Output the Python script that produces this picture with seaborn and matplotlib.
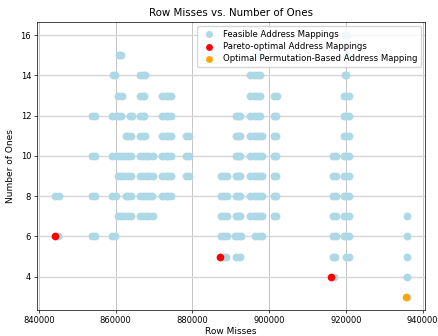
import numpy as np
import pandas as pd
import matplotlib
matplotlib.use("Agg")
import matplotlib.pyplot as plt
import seaborn as sns

# row misses of the feasible mappings, one list per number of ones
misses_16 = [919700, 920300]
misses_15 = [860800, 861400, 897000, 920000]
misses_14 = [859300, 859800, 866440, 867000, 867680, 895130, 896000, 896800, 897500,
             919700, 920100]
misses_13 = [860740, 861550, 866440, 867000, 867510, 872140, 873000, 873700, 874440,
             895130, 896000, 896800, 897500, 901260, 902060, 919510, 920100, 920760]
misses_12 = [853890, 854700, 859160, 860000, 860700, 861370, 863720, 864170, 866440,
             867000, 867510, 872140, 873000, 873700, 874440, 891440, 892000, 892420,
             895130, 896000, 896800, 897500, 901260, 901890, 919510, 920100, 920760]
misses_11 = [862670, 863300, 864000, 866440, 867000, 867680, 872140, 873000, 873700,
             874440, 878460, 879090, 891440, 892000, 892420, 895130, 896000, 896800,
             897500, 898200, 901260, 901890, 919510, 920100, 920760]
misses_10 = [853890, 854700, 859160, 860000, 860800, 861600, 862400, 863200, 864000,
             866440, 867200, 868000, 868800, 869620, 872140, 873000, 873700, 874440,
             878460, 879090, 891440, 892000, 892420, 895130, 896000, 896800, 897500,
             898200, 901260, 901890, 916610, 917500, 919510, 920100, 920760]
misses_9 = [860740, 861500, 862300, 863100, 864000, 866440, 867200, 868000, 868800,
            869620, 872140, 873000, 873700, 874440, 878460, 879090, 887490, 888200,
            889000, 891440, 892000, 892420, 895130, 896000, 896800, 897500, 898200,
            901260, 901890, 916610, 917500, 919510, 920100, 920760]
misses_8 = [844250, 845140, 853890, 854700, 859160, 859970, 862670, 863300, 864000,
            866440, 867200, 868000, 868800, 869440, 872140, 873000, 873700, 874440,
            887490, 888200, 889000, 891440, 892000, 892420, 895130, 896000, 896800,
            897500, 898200, 901260, 901890, 916610, 917500, 919510, 920100, 920760]
misses_7 = [860740, 861500, 862300, 863100, 864000, 866440, 867200, 868000, 868800,
            869620, 887490, 888200, 889000, 891440, 892000, 892420, 895130, 896000,
            896800, 897500, 898200, 901260, 901890, 916610, 917500, 919510, 920100,
            920760, 936000]
misses_6 = [844100, 845100, 853890, 854700, 859160, 859790, 887490, 888200, 889000,
            891180, 892000, 892680, 896440, 897300, 898210, 916610, 917500, 919510,
            920100, 920760, 936000]
misses_5 = [887300, 888000, 888740, 891440, 892420, 916610, 917250, 920130, 920760,
            936000]
misses_4 = [916300, 917000, 936000]
misses_3 = [936000]

rows = {16: misses_16, 15: misses_15, 14: misses_14, 13: misses_13, 12: misses_12,
        11: misses_11, 10: misses_10, 9: misses_9, 8: misses_8, 7: misses_7,
        6: misses_6, 5: misses_5, 4: misses_4, 3: misses_3}

pareto_misses = [844100, 887300, 916200]
pareto_ones = [6, 5, 4]

best_misses = [935600]
best_ones = [3]

feasible = pd.DataFrame(
    [(x, ones) for ones, xs in rows.items() for x in xs],
    columns=["Row Misses", "Number of Ones"],
)

fig = plt.figure(figsize=(4.38, 3.36), dpi=100)
ax = fig.add_axes([0.0845, 0.0774, 0.8855, 0.857])

sns.scatterplot(data=feasible, x="Row Misses", y="Number of Ones", color="lightblue",
                s=32, linewidth=0, label="Feasible Address Mappings", ax=ax, zorder=2)
sns.scatterplot(x=pareto_misses, y=pareto_ones, color="red", s=30, linewidth=0,
                label="Pareto-optimal Address Mappings", ax=ax, zorder=3)
sns.scatterplot(x=best_misses, y=best_ones, color="orange", s=30, linewidth=0,
                label="Optimal Permutation-Based Address Mapping", ax=ax, zorder=3)

# horizontal grid reads lighter/thicker than vertical in the reference
ax.xaxis.grid(True, color="#bcbcbc", linewidth=0.6)
ax.yaxis.grid(True, color="#d6d6d6", linewidth=1.0)
ax.set_axisbelow(True)
for spine in ax.spines.values():
    spine.set_linewidth(0.5)
ax.tick_params(labelsize=6, width=0.5, length=2.2, pad=2)
ax.set_xlabel("Row Misses", fontsize=6.5, labelpad=1.5)
ax.set_ylabel("Number of Ones", fontsize=6.5, labelpad=4)
ax.set_title("Row Misses vs. Number of Ones", fontsize=7.4, pad=4)
ax.legend(loc="upper right", fontsize=6.1, framealpha=0.8, borderpad=0.4,
          handletextpad=0.6, labelspacing=0.4, markerscale=0.9)

fig.savefig("out.png", dpi=100)
